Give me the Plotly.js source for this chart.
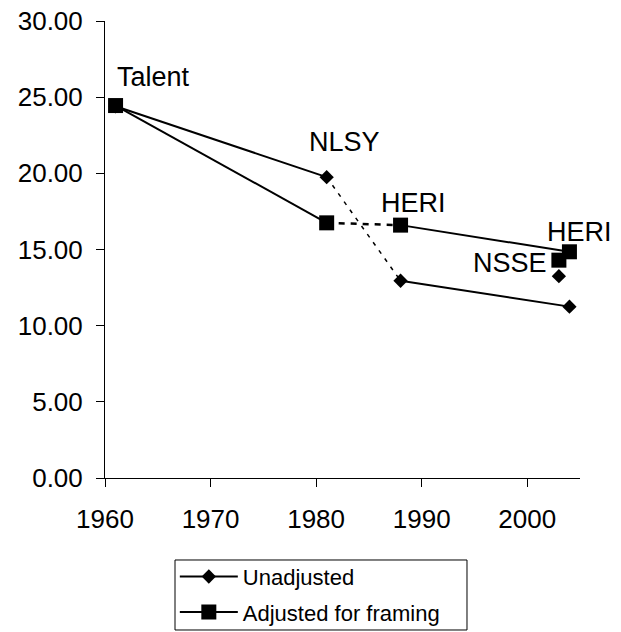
<!DOCTYPE html>
<html><head><meta charset="utf-8">
<script src="https://cdn.plot.ly/plotly-3.0.1.min.js"></script>
<style>html,body{margin:0;padding:0;background:#fff}#chart{width:621px;height:632px}</style>
</head><body><div id="chart"></div>
<script>
// Survey years and values
const years = [1961, 1981, 1988, 2004];
const unadjusted = [24.4, 19.75, 12.95, 11.25];
const adjusted = [24.45, 16.75, 16.6, 14.85];
const nsseYear = [2003];
const nsseUnadjusted = [13.25];
const nsseAdjusted = [14.3];
const labels = ["Talent", "NLSY", "HERI", "HERI", "NSSE"];
const seriesNames = ["Unadjusted", "Adjusted for framing"];

const FONT = "Liberation Sans, Arial, sans-serif";
const black = "#000";

function solidPart(vals) {
  return {x: [years[0], years[1], null, years[2], years[3]], y: [vals[0], vals[1], null, vals[2], vals[3]]};
}

const u = solidPart(unadjusted), a = solidPart(adjusted);
const traces = [
  {x: u.x, y: u.y, name: seriesNames[0], legendgroup: "u", mode: "lines+markers", connectgaps: false,
   line: {color: black, width: 2}, marker: {symbol: "diamond", size: 11, color: black}},
  {x: a.x, y: a.y, name: seriesNames[1], legendgroup: "a", mode: "lines+markers", connectgaps: false,
   line: {color: black, width: 2}, marker: {symbol: "square", size: 15, color: black}},
  {x: [years[1], years[2]], y: [unadjusted[1], unadjusted[2]], mode: "lines", showlegend: false, legendgroup: "u",
   line: {color: black, width: 1.5, dash: "4px,6px"}},
  {x: [years[1], years[2]], y: [adjusted[1], adjusted[2]], mode: "lines", showlegend: false, legendgroup: "a",
   line: {color: black, width: 2.5, dash: "6px,6px"}},
  {x: nsseYear, y: nsseUnadjusted, mode: "markers", showlegend: false, legendgroup: "u",
   marker: {symbol: "diamond", size: 11, color: black}},
  {x: nsseYear, y: nsseAdjusted, mode: "markers", showlegend: false, legendgroup: "a",
   marker: {symbol: "square", size: 15, color: black}}
];

const annFont = {family: FONT, size: 27, color: black};
const annotations = [
  {x: years[0], y: 26.3, text: labels[0], xanchor: "left", yanchor: "middle", xshift: -1},
  {x: years[1], y: 22.06, text: labels[1], xanchor: "center", yanchor: "middle", xshift: 18},
  {x: years[2], y: 18.06, text: labels[2], xanchor: "center", yanchor: "middle", xshift: 13},
  {x: years[3], y: 16.15, text: labels[3], xanchor: "center", yanchor: "middle", xshift: 10},
  {x: nsseYear[0], y: 14.1, text: labels[4], xanchor: "right", yanchor: "middle", xshift: -10}
].map(o => Object.assign({xref: "x", yref: "y", showarrow: false, font: annFont}, o));

// legend frame (drawn as a paper-referenced rectangle so it can be wider than the text)
const legendFrame = {type: "rect", xref: "paper", yref: "paper", x0: 0.1474, x1: 0.7621, y0: -0.1794, y1: -0.3326,
  line: {color: black, width: 1}, fillcolor: "rgba(0,0,0,0)", layer: "above"};

const layout = {
  width: 621, height: 632,
  margin: {l: 105, r: 41, t: 21, b: 154, autoexpand: false},
  paper_bgcolor: "#fff", plot_bgcolor: "#fff",
  font: {family: FONT, color: black},
  showlegend: true,
  xaxis: {range: [1960, 2005], tickvals: [1960, 1970, 1980, 1990, 2000], ticks: "outside", ticklen: 8,
    tickcolor: black, showline: true, linecolor: black, linewidth: 1, showgrid: false, zeroline: false,
    ticklabelstandoff: 10, tickfont: {family: FONT, size: 26, color: black}},
  yaxis: {range: [0, 30], dtick: 5, tickformat: ".2f", ticks: "outside", ticklen: 8,
    tickcolor: black, showline: true, linecolor: black, linewidth: 1, showgrid: false, zeroline: false,
    ticklabelstandoff: 8, tickfont: {family: FONT, size: 26, color: black}},
  legend: {x: 0.147, y: -0.170, xanchor: "left", yanchor: "top", borderwidth: 0,
    bgcolor: "rgba(0,0,0,0)", font: {family: FONT, size: 22, color: black}, itemwidth: 58,
    traceorder: "grouped", tracegroupgap: 4},
  shapes: [legendFrame],
  annotations: annotations
};

Plotly.newPlot("chart", traces, layout, {displayModeBar: false, staticPlot: true});
</script></body></html>
